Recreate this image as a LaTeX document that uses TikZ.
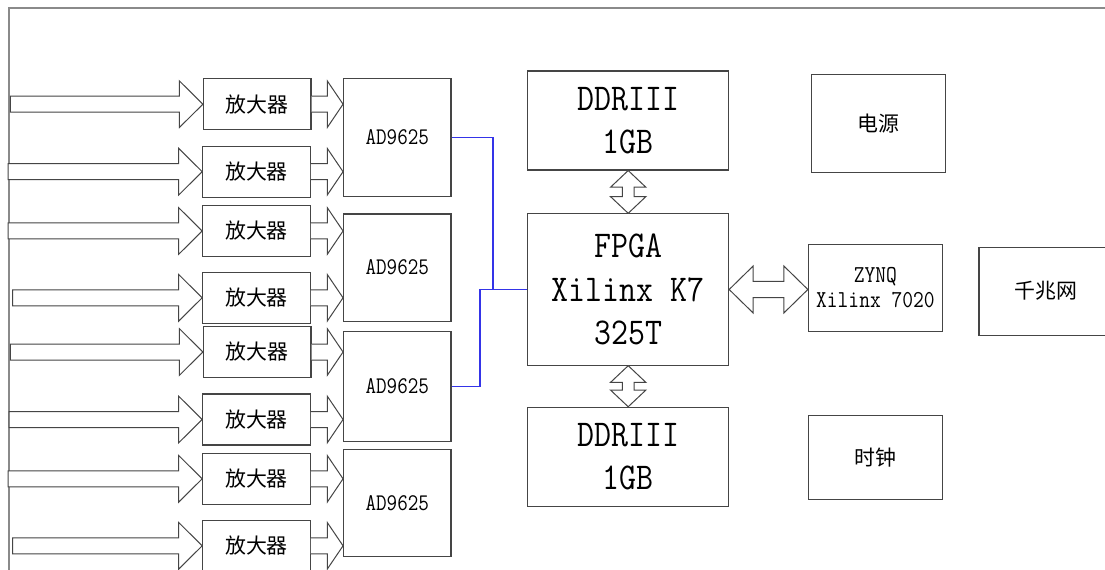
\documentclass[tikz,border=0pt]{standalone}
\usepackage{fontspec}
\usetikzlibrary{calc}
\newfontfamily\monofnt[FakeStretch=0.87]{Latin Modern Mono}
\newfontfamily\monosm[FakeStretch=0.86]{Latin Modern Mono}
\newfontfamily\cjk{Noto Sans CJK SC}
\definecolor{boxline}{HTML}{454545}
\definecolor{frameline}{HTML}{8A8A8A}
\definecolor{busblue}{HTML}{3434E8}
\tikzset{
  box/.style={draw=boxline, line width=1.1bp, rectangle, inner sep=0pt, text=black},
  ampbox/.style={box, minimum width=107.5bp, minimum height=51bp, font=\cjk\fontsize{21}{21}\selectfont},
  adbox/.style={box, minimum width=107.4bp, font=\monosm\fontsize{24}{25}\selectfont},
  bigbox/.style={box, minimum width=200.8bp, align=center, font=\monofnt\fontsize{38}{43.3}\selectfont},
  midbox/.style={box, minimum width=134bp, align=center, font=\monosm\fontsize{24.4}{25}\selectfont},
  cnbox/.style={box, minimum width=134bp, font=\cjk\fontsize{21}{21}\selectfont},
  fat/.style={draw=boxline, line width=1bp, fill=white, line join=miter},
  bus/.style={draw=busblue, line width=1.3bp}
}
% input arrow: closed tail, long head
\newcommand\fatIn[2]{\draw[fat] (#1) ++(0,-8) -- ($(#2)+(-23.5,-8)$) -- ($(#2)+(-23.5,-23.3)$) -- (#2) -- ($(#2)+(-23.5,23.3)$) -- ($(#2)+(-23.5,8)$) -- ($(#1)+(0,8)$) -- cycle;}
% short arrow between amplifier and ADC, open tail
\newcommand\fatS[2]{\draw[fat] ($(#1)+(0,-8)$) -- ($(#2)+(-15.7,-8)$) -- ($(#2)+(-15.7,-23.2)$) -- (#2) -- ($(#2)+(-15.7,23.2)$) -- ($(#2)+(-15.7,8)$) -- ($(#1)+(0,8)$);}
% vertical double arrow, #1 top tip, #2 bottom tip
\newcommand\dblV[2]{\draw[fat] (#1) -- ($(#1)+(17.7,16.7)$) -- ($(#1)+(5.8,16.7)$) -- ($(#2)+(5.8,-16.7)$) -- ($(#2)+(17.7,-16.7)$) -- (#2) -- ($(#2)+(-17.7,-16.7)$) -- ($(#2)+(-5.8,-16.7)$) -- ($(#1)+(-5.8,16.7)$) -- ($(#1)+(-17.7,16.7)$) -- cycle;}
% horizontal double arrow, #1 left tip, #2 right tip
\newcommand\dblH[2]{\draw[fat] (#1) -- ($(#1)+(24,-23.5)$) -- ($(#1)+(24,-8)$) -- ($(#2)+(-24,-8)$) -- ($(#2)+(-24,-23.5)$) -- (#2) -- ($(#2)+(-24,23.5)$) -- ($(#2)+(-24,8)$) -- ($(#1)+(24,8)$) -- ($(#1)+(24,23.5)$) -- cycle;}
\begin{document}
\begin{tikzpicture}[x=1bp,y=-1bp]
\clip (0,0) rectangle (1105,570);
\fill[white] (0,0) rectangle (1105,570);
% frame (left and top edges)
\draw[frameline, line width=1.5bp] (8.8,580) -- (8.8,8) -- (1110,8);

% amplifiers
\node[ampbox] (amp1) at (257.2,104.2) {放大器};
\node[ampbox] (amp2) at (256.5,171.7) {放大器};
\node[ampbox] (amp3) at (256.5,231.0) {放大器};
\node[ampbox] (amp4) at (256.5,297.8) {放大器};
\node[ampbox] (amp5) at (257.2,352.0) {放大器};
\node[ampbox] (amp6) at (256.5,419.5) {放大器};
\node[ampbox] (amp7) at (256.5,478.8) {放大器};
\node[ampbox] (amp8) at (256.5,545.8) {放大器};

% ADCs
\node[adbox, minimum height=118.3bp] (adA) at (397.3,137.5) {AD9625};
\node[adbox, minimum height=107.3bp] (adB) at (397.3,267.65) {AD9625};
\node[adbox, minimum height=110.6bp] (adC) at (397.3,386.5) {AD9625};
\node[adbox, minimum height=107bp]   (adD) at (397.3,502.8) {AD9625};

% central blocks
\node[bigbox, minimum height=99bp] (ddr1) at (628.2,120.5) {DDRIII\\1GB};
\node[bigbox, minimum height=151.3bp] (fpga) at (628.2,289.5) {FPGA\\Xilinx K7\\325T};
\node[bigbox, minimum height=99.4bp] (ddr2) at (628.2,457.0) {DDRIII\\1GB};

% right blocks
\node[cnbox, minimum height=97.6bp] (power) at (878.7,123.5) {电源};
\node[midbox, minimum height=87bp] (zynq) at (875.4,287.8) {ZYNQ\\Xilinx 7020};
\node[cnbox, minimum height=87.7bp] (gbe) at (1046,291.2) {千兆网};
\node[cnbox, minimum height=83.6bp, minimum width=134.4bp] (clk) at (875.6,457.5) {时钟};

% input arrows
\path (amp1.west) ++(-192.4,0) coordinate (s1);
\path (amp2.west) ++(-194,0) coordinate (s2);
\path (amp3.west) ++(-194,0) coordinate (s3);
\path (amp4.west) ++(-189.5,0) coordinate (s4);
\path (amp5.west) ++(-192.4,0) coordinate (s5);
\path (amp6.west) ++(-193,0) coordinate (s6);
\path (amp7.west) ++(-194,0) coordinate (s7);
\path (amp8.west) ++(-189.5,0) coordinate (s8);
\foreach \i in {1,...,8}{\fatIn{s\i}{amp\i.west}}

% amplifier -> ADC arrows
\foreach \i/\a in {1/A,2/A,3/B,4/B,5/C,6/C,7/D,8/D}{
  \coordinate (t\i) at (ad\a.west |- amp\i.east);
  \fatS{amp\i.east}{t\i}
}

% buses to FPGA
\draw[bus] (adA.east) -| ($(fpga.west)+(-34.3,0)$);
\draw[bus] (adC.east) -- ++(28.5,0) |- (fpga.west);

% memory and ZYNQ links
\dblV{ddr1.south}{fpga.north}
\dblV{fpga.south}{ddr2.north}
\coordinate (zt) at (zynq.west |- fpga.east);
\dblH{fpga.east}{zt}
\end{tikzpicture}
\end{document}
